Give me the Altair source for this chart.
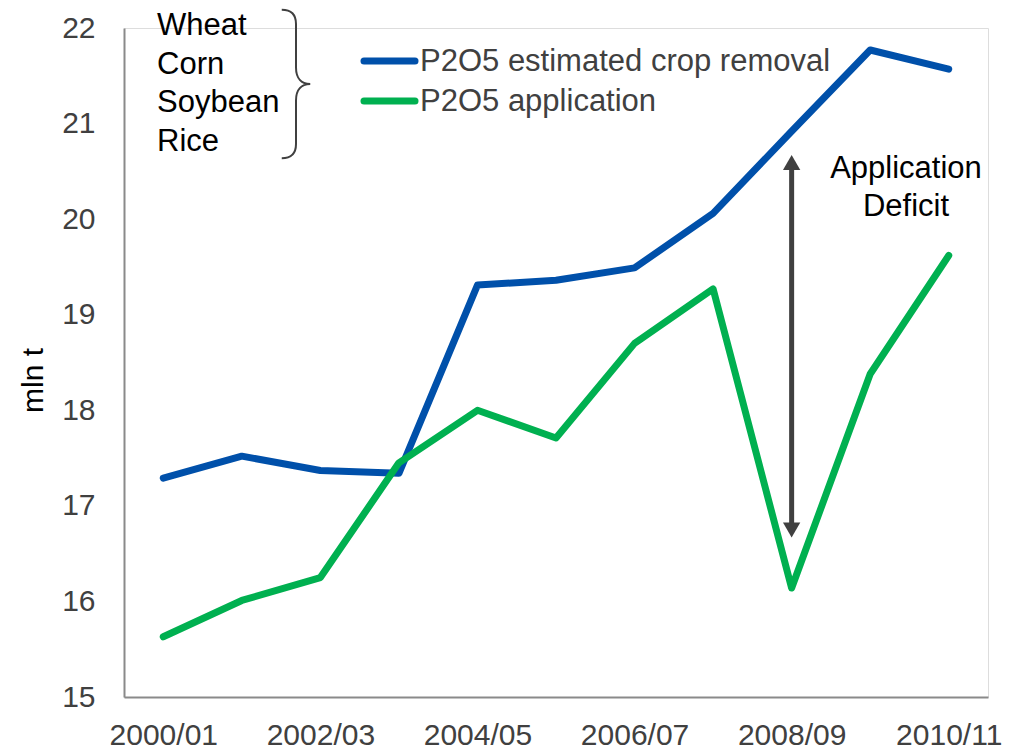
import altair as alt
import pandas as pd

periods = ["2000/01", "2001/02", "2002/03", "2003/04", "2004/05", "2005/06",
           "2006/07", "2007/08", "2008/09", "2009/10", "2010/11"]
tick_labels = ["2000/01", "2002/03", "2004/05", "2006/07", "2008/09", "2010/11"]
series_names = ["P2O5 estimated crop removal", "P2O5 application"]
removal = [17.29, 17.52, 17.37, 17.34, 19.31, 19.36, 19.49, 20.06, 20.92, 21.77, 21.57]
application = [15.63, 16.01, 16.25, 17.45, 18.00, 17.71, 18.70, 19.27, 16.14, 18.38, 19.62]
y_ticks = [15, 16, 17, 18, 19, 20, 21, 22]
crops_text = "Wheat\nCorn\nSoybean\nRice"
deficit_text = "Application\nDeficit"
arrow_period = "2008/09"
arrow_top = 20.67
arrow_bottom = 16.67

BLUE = "#0050AA"
GREEN = "#00B050"
FONT = "Liberation Sans"

df = pd.DataFrame({
    "period": periods * 2,
    "series": [series_names[0]] * len(periods) + [series_names[1]] * len(periods),
    "value": removal + application,
})

x_enc = alt.X("period:O", sort=periods,
              scale=alt.Scale(type="point", padding=0.5),
              axis=alt.Axis(values=tick_labels, labelAngle=0, ticks=False, tickSize=0,
                            labelPadding=23, labelFontSize=30, labelColor="#404040",
                            labelFont=FONT, domainColor="#8A8A8A", domainWidth=2,
                            grid=False, title=None))
y_enc = alt.Y("value:Q", scale=alt.Scale(domain=[15, 22], nice=False, zero=False),
              axis=alt.Axis(values=y_ticks, format="d", ticks=False, tickSize=0,
                            labelPadding=29,
                            labelFontSize=30, labelColor="#404040", labelFont=FONT,
                            domainColor="#8A8A8A", domainWidth=2, grid=False,
                            title="mln t", titleFontSize=30, titleFont=FONT,
                            titleColor="#000000", titleFontWeight="normal",
                            titleAngle=270, titleX=-91, titleY=352,
                            titleAlign="center", titleBaseline="middle"))

lines = alt.Chart(df).mark_line(strokeWidth=7, strokeCap="round", strokeJoin="round").encode(
    x=x_enc, y=y_enc,
    color=alt.Color("series:N", scale=alt.Scale(domain=series_names, range=[BLUE, GREEN]),
                    legend=None),
    detail="series:N",
)

one = pd.DataFrame({"period": [arrow_period], "top": [arrow_top], "bottom": [arrow_bottom]})

shaft = alt.Chart(one).mark_rule(strokeWidth=5, color="#404040", yOffset=10, y2Offset=-10).encode(
    x=alt.X("period:O", sort=periods), y=alt.Y("top:Q"), y2="bottom:Q")
head_up = alt.Chart(one).mark_point(shape="triangle-up", filled=True, size=300,
                                     color="#404040", opacity=1, yOffset=7.5).encode(
    x=alt.X("period:O", sort=periods), y=alt.Y("top:Q"))
head_down = alt.Chart(one).mark_point(shape="triangle-down", filled=True, size=300,
                                       color="#404040", opacity=1, yOffset=-7.5).encode(
    x=alt.X("period:O", sort=periods), y=alt.Y("bottom:Q"))

blank = pd.DataFrame({"k": [0]})

crops = alt.Chart(blank).mark_text(text=crops_text, lineBreak="\n", lineHeight=38.5,
                                   align="left", baseline="middle", fontSize=31,
                                   font=FONT, color="#000000").encode(
    x=alt.value(33), y=alt.value(-2))

brace_path = ("M -0.19,-0.99 C -0.06,-0.99 0,-0.93 0,-0.8 L 0,-0.22 "
              "C 0,-0.07 0.08,0 0.19,0 C 0.08,0 0,0.07 0,0.22 L 0,0.8 "
              "C 0,0.93 -0.06,0.99 -0.19,0.99")
brace = alt.Chart(blank).mark_point(shape=brace_path, filled=False, size=22500,
                                    strokeWidth=2, color="#404040", opacity=1).encode(
    x=alt.value(172), y=alt.value(56))

deficit = alt.Chart(blank).mark_text(text=deficit_text, lineBreak="\n", lineHeight=37.5,
                                     align="center", baseline="middle", fontSize=31,
                                     font=FONT, color="#000000").encode(
    x=alt.value(782), y=alt.value(141))

leg_blue = alt.Chart(blank).mark_rule(strokeWidth=7, strokeCap="round", color=BLUE).encode(
    x=alt.value(240), x2=alt.value(291), y=alt.value(33))
leg_green = alt.Chart(blank).mark_rule(strokeWidth=7, strokeCap="round", color=GREEN).encode(
    x=alt.value(240), x2=alt.value(291), y=alt.value(73))
leg_text1 = alt.Chart(blank).mark_text(text=series_names[0], align="left", baseline="middle",
                                       fontSize=31, font=FONT, color="#404040").encode(
    x=alt.value(296), y=alt.value(34))
leg_text2 = alt.Chart(blank).mark_text(text=series_names[1], align="left", baseline="middle",
                                       fontSize=31, font=FONT, color="#404040").encode(
    x=alt.value(296), y=alt.value(74))

chart = alt.layer(lines, shaft, head_up, head_down, crops, brace, deficit,
                  leg_blue, leg_green, leg_text1, leg_text2).properties(
    width=864, height=669,
    autosize=alt.AutoSizeParams(type="none"),
    padding={"left": 116, "top": 20, "right": 24, "bottom": 54},
).configure_view(stroke=None).configure(font=FONT)

chart.save("out.html", embed_options={"renderer": "svg", "actions": False})
